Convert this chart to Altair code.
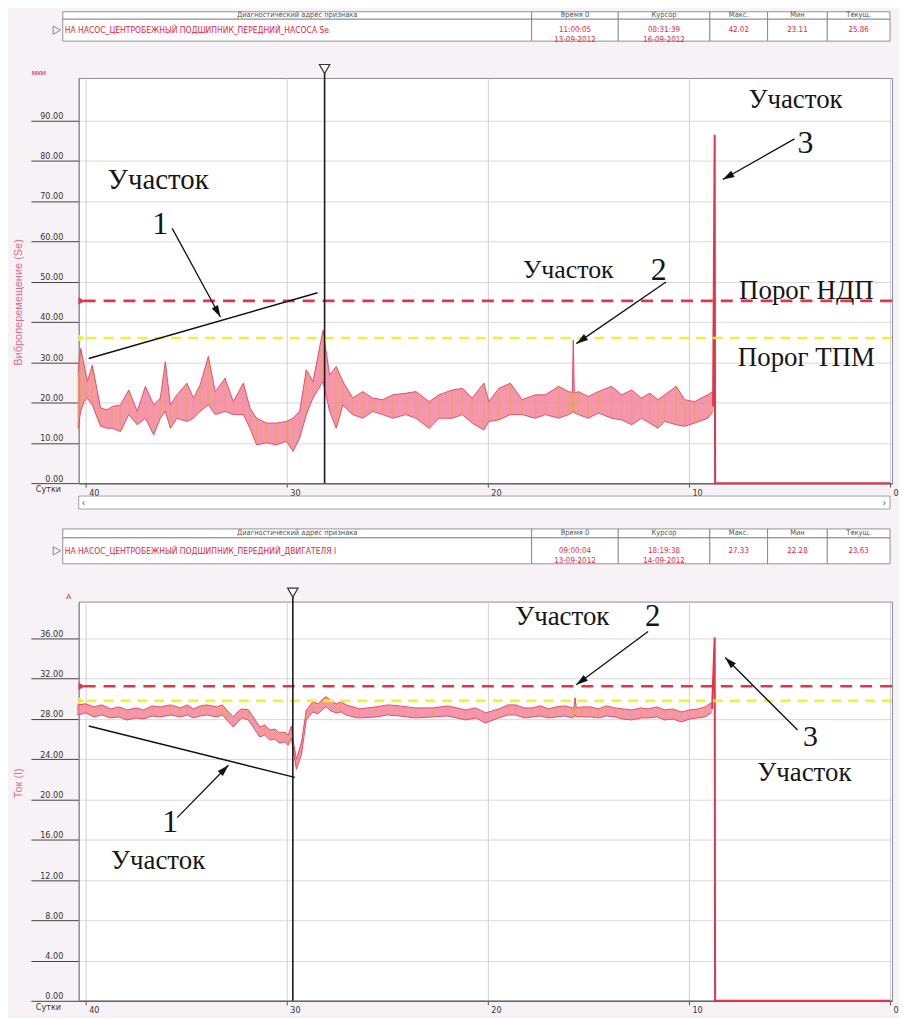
import math
import altair as alt
import pandas as pd

# ---------------- data ----------------
x_ticks = [40, 30, 20, 10, 0]

# Top panel: vibration displacement Se (мкм), band (max / min) per day
se_days = [40.38, 40.25, 40.08, 39.92, 39.67, 39.42, 39.26, 38.93, 38.68, 38.27,
           37.86, 37.44, 37.03, 36.62, 36.29, 36.04, 35.79, 35.46, 34.97, 34.64,
           34.31, 33.90, 33.56, 33.07, 32.66, 32.16, 31.83, 31.50, 31.01, 30.51,
           30.02, 29.69, 29.36, 29.03, 28.70, 28.20, 27.87, 27.54, 27.21,
           26.72, 26.22, 25.73, 25.23, 24.73, 24.08, 23.58, 22.92, 22.43, 21.77,
           21.27, 20.78, 20.20, 19.95, 19.46, 18.88, 18.30, 17.64, 17.14, 16.48,
           15.99, 15.80, 15.75, 15.70, 15.50, 15.00, 14.51, 13.85, 13.35, 12.85,
           12.36, 11.95, 11.54, 11.20, 10.63, 10.21, 9.72, 9.06, 8.81]
se_hi = [27.7, 33.4, 29.3, 25.2, 29.3, 22.7, 18.6, 18.2, 19.0, 19.4,
         23.1, 17.8, 24.0, 19.4, 21.1, 30.1, 19.4, 21.9, 24.8, 21.1,
         24.4, 31.4, 22.7, 26.0, 20.2, 24.8, 18.6, 16.1, 14.9, 14.9,
         15.3, 16.1, 17.8, 28.1, 25.2, 37.9, 26.8, 28.9, 25.2,
         21.1, 22.7, 21.1, 20.7, 21.9, 22.3, 22.7, 20.2, 21.9, 23.1,
         23.5, 21.1, 24.8, 20.2, 23.5, 24.8, 20.7, 21.9, 21.9, 24.0,
         22.7, 22.5, 35.5, 22.3, 22.7, 21.5, 22.7, 24.0, 21.9, 23.1,
         21.1, 22.3, 20.7, 21.9, 24.0, 20.7, 20.2, 21.9, 22.7]
se_lo = [13.6, 17.8, 20.2, 21.1, 19.4, 16.1, 14.1, 13.6, 13.6, 12.8,
         17.0, 14.5, 16.1, 12.0, 16.1, 17.8, 13.6, 16.1, 15.3, 16.1,
         17.8, 19.4, 17.0, 17.8, 17.0, 17.0, 13.6, 9.5, 10.0, 9.5,
         10.4, 7.9, 11.2, 17.0, 21.1, 25.2, 17.8, 13.6, 19.4,
         17.0, 16.1, 17.8, 17.0, 16.1, 17.0, 16.1, 13.6, 16.1, 16.1,
         17.0, 14.9, 13.2, 15.3, 15.7, 17.0, 17.0, 16.1, 17.0, 16.1,
         17.0, 17.5, 17.8, 17.4, 17.0, 16.1, 17.4, 16.1, 15.7, 14.5,
         16.1, 14.9, 13.6, 15.3, 14.5, 14.1, 14.9, 16.1, 17.8]
se_spike_days = [8.80, 8.72, 8.70, 0.0]
se_spike_vals = [19.0, 86.4, 0.0, 0.0]
se_ndp = 45.2
se_tpm = 36.0
se_cursor = 28.12
se_ticks = [0, 10, 20, 30, 40, 50, 60, 70, 80, 90]

# Bottom panel: current I (А)
i_days = [40.41, 40.0, 39.59, 39.2, 38.76, 38.35, 37.94, 37.5, 37.11, 36.7,
          36.29, 35.79, 35.29, 34.95, 34.64, 34.3, 33.98, 33.49, 33.2, 32.99,
          32.66, 32.45, 32.24, 31.91, 31.67, 31.34, 31.1, 30.84, 30.6, 30.35,
          30.1, 29.93, 29.77, 29.69, 29.52, 29.27, 29.03, 28.70, 28.45, 28.20,
          28.04, 27.8, 27.54, 27.3, 27.05, 26.7, 26.39,
          25.56, 25.0, 24.41, 23.6, 22.75, 22.0, 21.11, 20.6, 20.12, 19.46,
          19.0, 18.61, 18.2, 17.79, 17.4, 16.98, 16.6, 16.16, 15.8, 15.72,
          15.66, 15.60, 15.3, 14.90, 14.50, 14.1, 13.68, 13.3, 12.85, 12.4,
          12.03, 11.6, 11.20, 10.8, 10.38, 9.95, 9.55, 9.2, 8.89]
i_hi = [29.4, 29.5, 29.2, 29.4, 29.0, 29.2, 28.9, 29.1, 28.9, 29.3,
        29.2, 29.4, 29.1, 29.4, 29.0, 29.3, 29.4, 29.2, 29.4, 28.9,
        28.2, 28.7, 29.0, 28.9, 28.2, 27.2, 27.4, 26.9, 27.0, 26.6,
        26.7, 26.4, 27.3, 25.9, 24.0, 25.7, 28.9, 29.7, 29.5, 30.0,
        30.2, 29.8, 29.5, 29.7, 29.4, 29.2, 29.0,
        29.2, 29.4, 29.3, 29.1, 29.1, 29.3, 28.9, 29.1, 28.6, 29.0,
        29.4, 29.4, 29.1, 29.1, 29.3, 29.0, 29.2, 29.3, 29.1, 29.1,
        30.1, 29.1, 29.2, 29.2, 29.0, 29.3, 29.1, 29.0, 28.9, 29.1,
        29.0, 29.2, 28.9, 29.0, 28.7, 28.9, 29.0, 29.2, 29.6]
i_lo = [28.4, 28.6, 28.2, 28.4, 28.1, 28.2, 27.9, 28.1, 28.0, 28.3,
        28.2, 28.4, 28.2, 28.4, 28.1, 28.3, 28.4, 28.2, 28.4, 27.9,
        27.2, 27.7, 28.1, 27.9, 27.2, 26.2, 26.4, 25.9, 26.0, 25.6,
        25.7, 25.4, 26.1, 24.9, 23.0, 24.5, 27.9, 28.7, 28.5, 29.0,
        29.2, 28.8, 28.6, 28.7, 28.4, 28.2, 28.1,
        28.2, 28.4, 28.3, 28.1, 28.2, 28.3, 27.9, 28.1, 27.6, 28.1,
        28.4, 28.4, 28.1, 28.2, 28.3, 28.1, 28.2, 28.3, 28.1, 28.2,
        28.4, 28.2, 28.2, 28.2, 28.1, 28.3, 28.2, 28.0, 27.9, 28.1,
        28.1, 28.2, 27.9, 28.0, 27.7, 28.0, 28.1, 28.2, 28.6]
i_spike_days = [8.85, 8.72, 8.70, 0.0]
i_spike_vals = [29.0, 36.1, 0.0, 0.0]
i_ndp = 31.25
i_tpm = 29.8
i_cursor = 29.70
i_ticks = [0, 4, 8, 12, 16, 20, 24, 28, 32, 36]

# header tables
table_headers = ["Диагностический адрес признака", "Время 0", "Курсор", "Макс.", "Мин", "Текущ."]
se_row = ["НА НАСОС_ЦЕНТРОБЕЖНЫЙ ПОДШИПНИК_ПЕРЕДНИЙ_НАСОСА Se", "11:00:05\n13-09-2012",
          "08:31:39\n16-09-2012", "42.02", "23.11", "25.86"]
i_row = ["НА НАСОС_ЦЕНТРОБЕЖНЫЙ ПОДШИПНИК_ПЕРЕДНИЙ_ДВИГАТЕЛЯ I", "09:00:04\n13-09-2012",
         "18:19:38\n14-09-2012", "27.33", "22.28", "23.63"]

# annotations: (text, day, value, font size)
se_labels = [("Участок", 36.4, 75.1, 29), ("1", 36.3, 64.2, 32),
             ("Участок", 16.0, 52.8, 26), ("2", 11.5, 52.8, 32),
             ("Участок", 4.7, 95.1, 27), ("3", 4.2, 84.4, 32),
             ("Порог НДП", 4.16, 47.7, 27), ("Порог ТПМ", 4.16, 31.1, 27)]
se_arrows = [(35.7, 63.2, 33.3, 41.2), (11.14, 49.9, 15.6, 34.6), (4.75, 85.4, 8.32, 75.3)]
se_trend = (39.85, 30.9, 28.47, 47.2)

i_labels = [("Участок", 16.3, 38.1, 27), ("2", 11.8, 38.1, 31),
            ("1", 35.8, 17.8, 32), ("Участок", 36.4, 13.9, 27),
            ("3", 3.96, 26.2, 30), ("Участок", 4.26, 22.6, 27)]
i_arrows = [(12.03, 36.7, 15.6, 31.4), (35.45, 18.2, 32.9, 23.4), (4.6, 26.9, 8.2, 34.1)]
i_trend = (39.85, 27.3, 29.6, 22.2)

# ---------------- layout / style ----------------
W = 817
H1 = 407
H2 = 401
Y1_MAX = 100.5
Y2_MAX = 39.66
X_DOM = [40.35, -0.1]
PXD = W / (X_DOM[0] - X_DOM[1])
BG = "#f6f2f6"
NARROW = "Liberation Sans Narrow, DejaVu Sans Condensed, sans-serif"
SERIF = "Liberation Serif"
RED = "#e3344a"
YEL = "#eef03c"
COL_EDGES = [-16, 455, 542, 634, 692, 752, 815]
ARROW_PATH = "M0,0L0.55,1.8L-0.55,1.8Z"


def one():
    return pd.DataFrame({"k": [0]})


def panel(days, hi, lo, sp_d, sp_v, ndp, tpm, cursor, ymax, H, yticks, ytitle,
          title_y, unit, unit_x, row, row_y, labels, arrows, trend, scrollbar, anchor):
    xs = alt.Scale(domain=X_DOM, nice=False, zero=False)
    ys = alt.Scale(domain=[0, ymax], nice=False, zero=False)
    xaxis = alt.Axis(values=x_ticks, format="d", title=None, labelAlign="left",
                     labelOffset=3, labelPadding=1, labelFontSize=9, labelColor="#333",
                     labelFont=NARROW, tickSize=4, tickColor="#555", domainColor="#666",
                     domainWidth=1.5, gridColor="#c4c4cc", gridWidth=0.8)
    yaxis = alt.Axis(values=yticks, format=".2f", title=ytitle, labelFontSize=9,
                     labelColor="#333", labelFont=NARROW, tickSize=48, tickColor="#444",
                     labelPadding=-32, labelBaseline="bottom", domainColor="#888",
                     gridColor="#cfcfd6", gridWidth=0.8,
                     titleX=-60, titleY=title_y, titleAngle=270, titleAlign="center",
                     titleBaseline="middle", titleColor="#e46a8c", titleFontSize=11,
                     titleFontWeight="normal", titleFont="Liberation Sans")

    def X(f):
        return alt.X(f, type="quantitative", scale=xs, axis=xaxis)

    def Y(f):
        return alt.Y(f, type="quantitative", scale=ys, axis=yaxis)

    band = pd.DataFrame({"day": days, "hi": hi, "lo": lo})
    layers = []
    layers.append(alt.Chart(band).mark_area(color="#f27c98", opacity=0.8).encode(
        x=X("day"), y=Y("hi"), y2=alt.Y2("lo")))
    layers.append(alt.Chart(band).mark_rule(color="#e9a15c", strokeWidth=1.2, opacity=0.8).encode(
        x=X("day"), y=Y("hi"), y2=alt.Y2("lo")))
    layers.append(alt.Chart(band).mark_line(color="#e24f6e", strokeWidth=1).encode(
        x=X("day"), y=Y("hi")))
    layers.append(alt.Chart(band).mark_line(color="#e24f6e", strokeWidth=1).encode(
        x=X("day"), y=Y("lo")))

    spike = pd.DataFrame({"day": sp_d, "val": sp_v, "i": list(range(len(sp_d)))})
    layers.append(alt.Chart(spike).mark_line(color=RED, strokeWidth=2).encode(
        x=X("day"), y=Y("val"), order=alt.Order("i:Q")))

    # thresholds
    for val, col, dash in [(ndp, RED, [12, 8]), (tpm, YEL, [10, 7])]:
        t = pd.DataFrame({"val": [val], "day": [X_DOM[0] - 0.15]})
        layers.append(alt.Chart(t).mark_rule(color=col, strokeWidth=2.6, strokeDash=dash).encode(
            y=Y("val")))
        layers.append(alt.Chart(t).mark_point(shape="triangle-right", filled=True, color=col,
                                              size=55, opacity=1).encode(x=X("day"), y=Y("val")))

    # cursor
    cur = pd.DataFrame({"day": [cursor]})
    layers.append(alt.Chart(cur).mark_rule(color="#1a1a1a", strokeWidth=1.6).encode(
        x=X("day"), y=alt.value(-6), y2=alt.value(H)))
    layers.append(alt.Chart(cur).mark_point(shape="triangle-down", filled=True, fill="white",
                                            stroke="#333", strokeWidth=1.2, size=110,
                                            opacity=1).encode(x=X("day"), y=alt.value(-9)))

    # trend line (section 1)
    tr = pd.DataFrame({"day": [trend[0]], "day2": [trend[2]], "val": [trend[1]], "val2": [trend[3]]})
    layers.append(alt.Chart(tr).mark_rule(color="#111", strokeWidth=1.5).encode(
        x=X("day"), x2=alt.X2("day2"), y=Y("val"), y2=alt.Y2("val2")))

    # arrows
    rows = []
    for d0, v0, d1, v1 in arrows:
        x0 = (X_DOM[0] - d0) * PXD
        x1 = (X_DOM[0] - d1) * PXD
        y0 = H - v0 * H / ymax
        y1 = H - v1 * H / ymax
        ang = math.degrees(math.atan2(x1 - x0, -(y1 - y0))) % 360
        rows.append({"day": d0, "val": v0, "day2": d1, "val2": v1, "angle": ang})
    ar = pd.DataFrame(rows)
    layers.append(alt.Chart(ar).mark_rule(color="#111", strokeWidth=1.3).encode(
        x=X("day"), x2=alt.X2("day2"), y=Y("val"), y2=alt.Y2("val2")))
    layers.append(alt.Chart(ar).mark_point(shape=ARROW_PATH, filled=True, color="#111",
                                           size=170, opacity=1).encode(
        x=X("day2"), y=Y("val2"), angle=alt.Angle("angle:Q", scale=None)))

    # annotation texts
    lab = pd.DataFrame(labels, columns=["text", "day", "val", "fs"])
    layers.append(alt.Chart(lab).mark_text(font=SERIF, color="#161616", baseline="middle").encode(
        x=X("day"), y=Y("val"), text="text:N", size=alt.Size("fs:Q", scale=None)))

    # header table
    y0, ym, y1 = row_y
    cells = []
    for i in range(6):
        cells.append({"x0": COL_EDGES[i], "x1": COL_EDGES[i + 1], "y0": y0, "y1": ym})
        cells.append({"x0": COL_EDGES[i], "x1": COL_EDGES[i + 1], "y0": ym, "y1": y1})
    cdf = pd.DataFrame(cells)
    layers.append(alt.Chart(cdf).mark_rect(fill="white", stroke="#7a7a7a", strokeWidth=0.8).encode(
        x=alt.X("x0:Q", scale=None), x2="x1", y=alt.Y("y0:Q", scale=None), y2="y1"))
    hdf = pd.DataFrame({"x": [(COL_EDGES[i] + COL_EDGES[i + 1]) / 2 for i in range(6)],
                        "y": [(y0 + ym) / 2] * 6, "t": table_headers})
    layers.append(alt.Chart(hdf).mark_text(font=NARROW, fontSize=7.5, color="#555",
                                           baseline="middle").encode(
        x=alt.X("x:Q", scale=None), y=alt.Y("y:Q", scale=None), text="t:N"))
    ddf = pd.DataFrame({"x": [(COL_EDGES[i] + COL_EDGES[i + 1]) / 2 for i in range(1, 6)],
                        "y": [(ym + y1) / 2] * 5, "t": row[1:]})
    layers.append(alt.Chart(ddf).mark_text(font=NARROW, fontSize=8, color="#e5243b",
                                           baseline="middle", lineBreak="\n",
                                           lineHeight=10).encode(
        x=alt.X("x:Q", scale=None), y=alt.Y("y:Q", scale=None), text="t:N"))
    fdf = pd.DataFrame({"x": [COL_EDGES[0] + 2], "y": [(ym + y1) / 2], "t": [row[0]]})
    layers.append(alt.Chart(fdf).mark_text(font=NARROW, fontSize=8.5, color="#e5243b",
                                           baseline="middle", align="left").encode(
        x=alt.X("x:Q", scale=None), y=alt.Y("y:Q", scale=None), text="t:N"))
    layers.append(alt.Chart(one()).mark_point(shape="triangle-right", filled=False, color="#888",
                                              size=70, strokeWidth=1, opacity=1).encode(
        x=alt.value(COL_EDGES[0] - 6), y=alt.value((ym + y1) / 2)))

    # unit and "Сутки"
    layers.append(alt.Chart(one()).mark_text(text=unit, font="Liberation Sans", fontSize=8,
                                             color="#e0304a", baseline="middle").encode(
        x=alt.value(unit_x), y=alt.value(-5)))
    layers.append(alt.Chart(one()).mark_text(text="Сутки", font=NARROW, fontSize=9, color="#333",
                                             align="left", baseline="top").encode(
        x=alt.value(-43), y=alt.value(H + 2)))

    if scrollbar:
        layers.append(alt.Chart(one()).mark_rect(fill="white", stroke="#8a8a8a",
                                                 strokeWidth=0.8).encode(
            x=alt.value(0), x2=alt.value(815), y=alt.value(H + 13), y2=alt.value(H + 26)))
        for ch, xp in [("‹", 5), ("›", 809)]:
            layers.append(alt.Chart(one()).mark_text(text=ch, fontSize=10, color="#444",
                                                     baseline="middle").encode(
                x=alt.value(xp), y=alt.value(H + 19.5)))
    if anchor:
        layers.append(alt.Chart(one()).mark_rect(fill=BG).encode(
            x=alt.value(-70), x2=alt.value(-69), y=alt.value(-67), y2=alt.value(-66)))

    return alt.layer(*layers).properties(width=W, height=H)


top = panel(se_days, se_hi, se_lo, se_spike_days, se_spike_vals, se_ndp, se_tpm, se_cursor,
            Y1_MAX, H1, se_ticks, "Виброперемещение (Se)", 225, "мкм", -40,
            se_row, (-66.5, -59, -37), se_labels, se_arrows, se_trend, True, True)
bottom = panel(i_days, i_hi, i_lo, i_spike_days, i_spike_vals, i_ndp, i_tpm, i_cursor,
               Y2_MAX, H2, i_ticks, "Ток (I)", 182, "А", -10,
               i_row, (-73, -64, -38), i_labels, i_arrows, i_trend, False, False)

chart = alt.vconcat(top, bottom, spacing=119, bounds="flush").properties(
    background=BG, padding=0
).configure_view(stroke="#8c8c9c", strokeWidth=1, fill="white")

chart.save("out.html", embed_options={"renderer": "svg", "actions": False})
